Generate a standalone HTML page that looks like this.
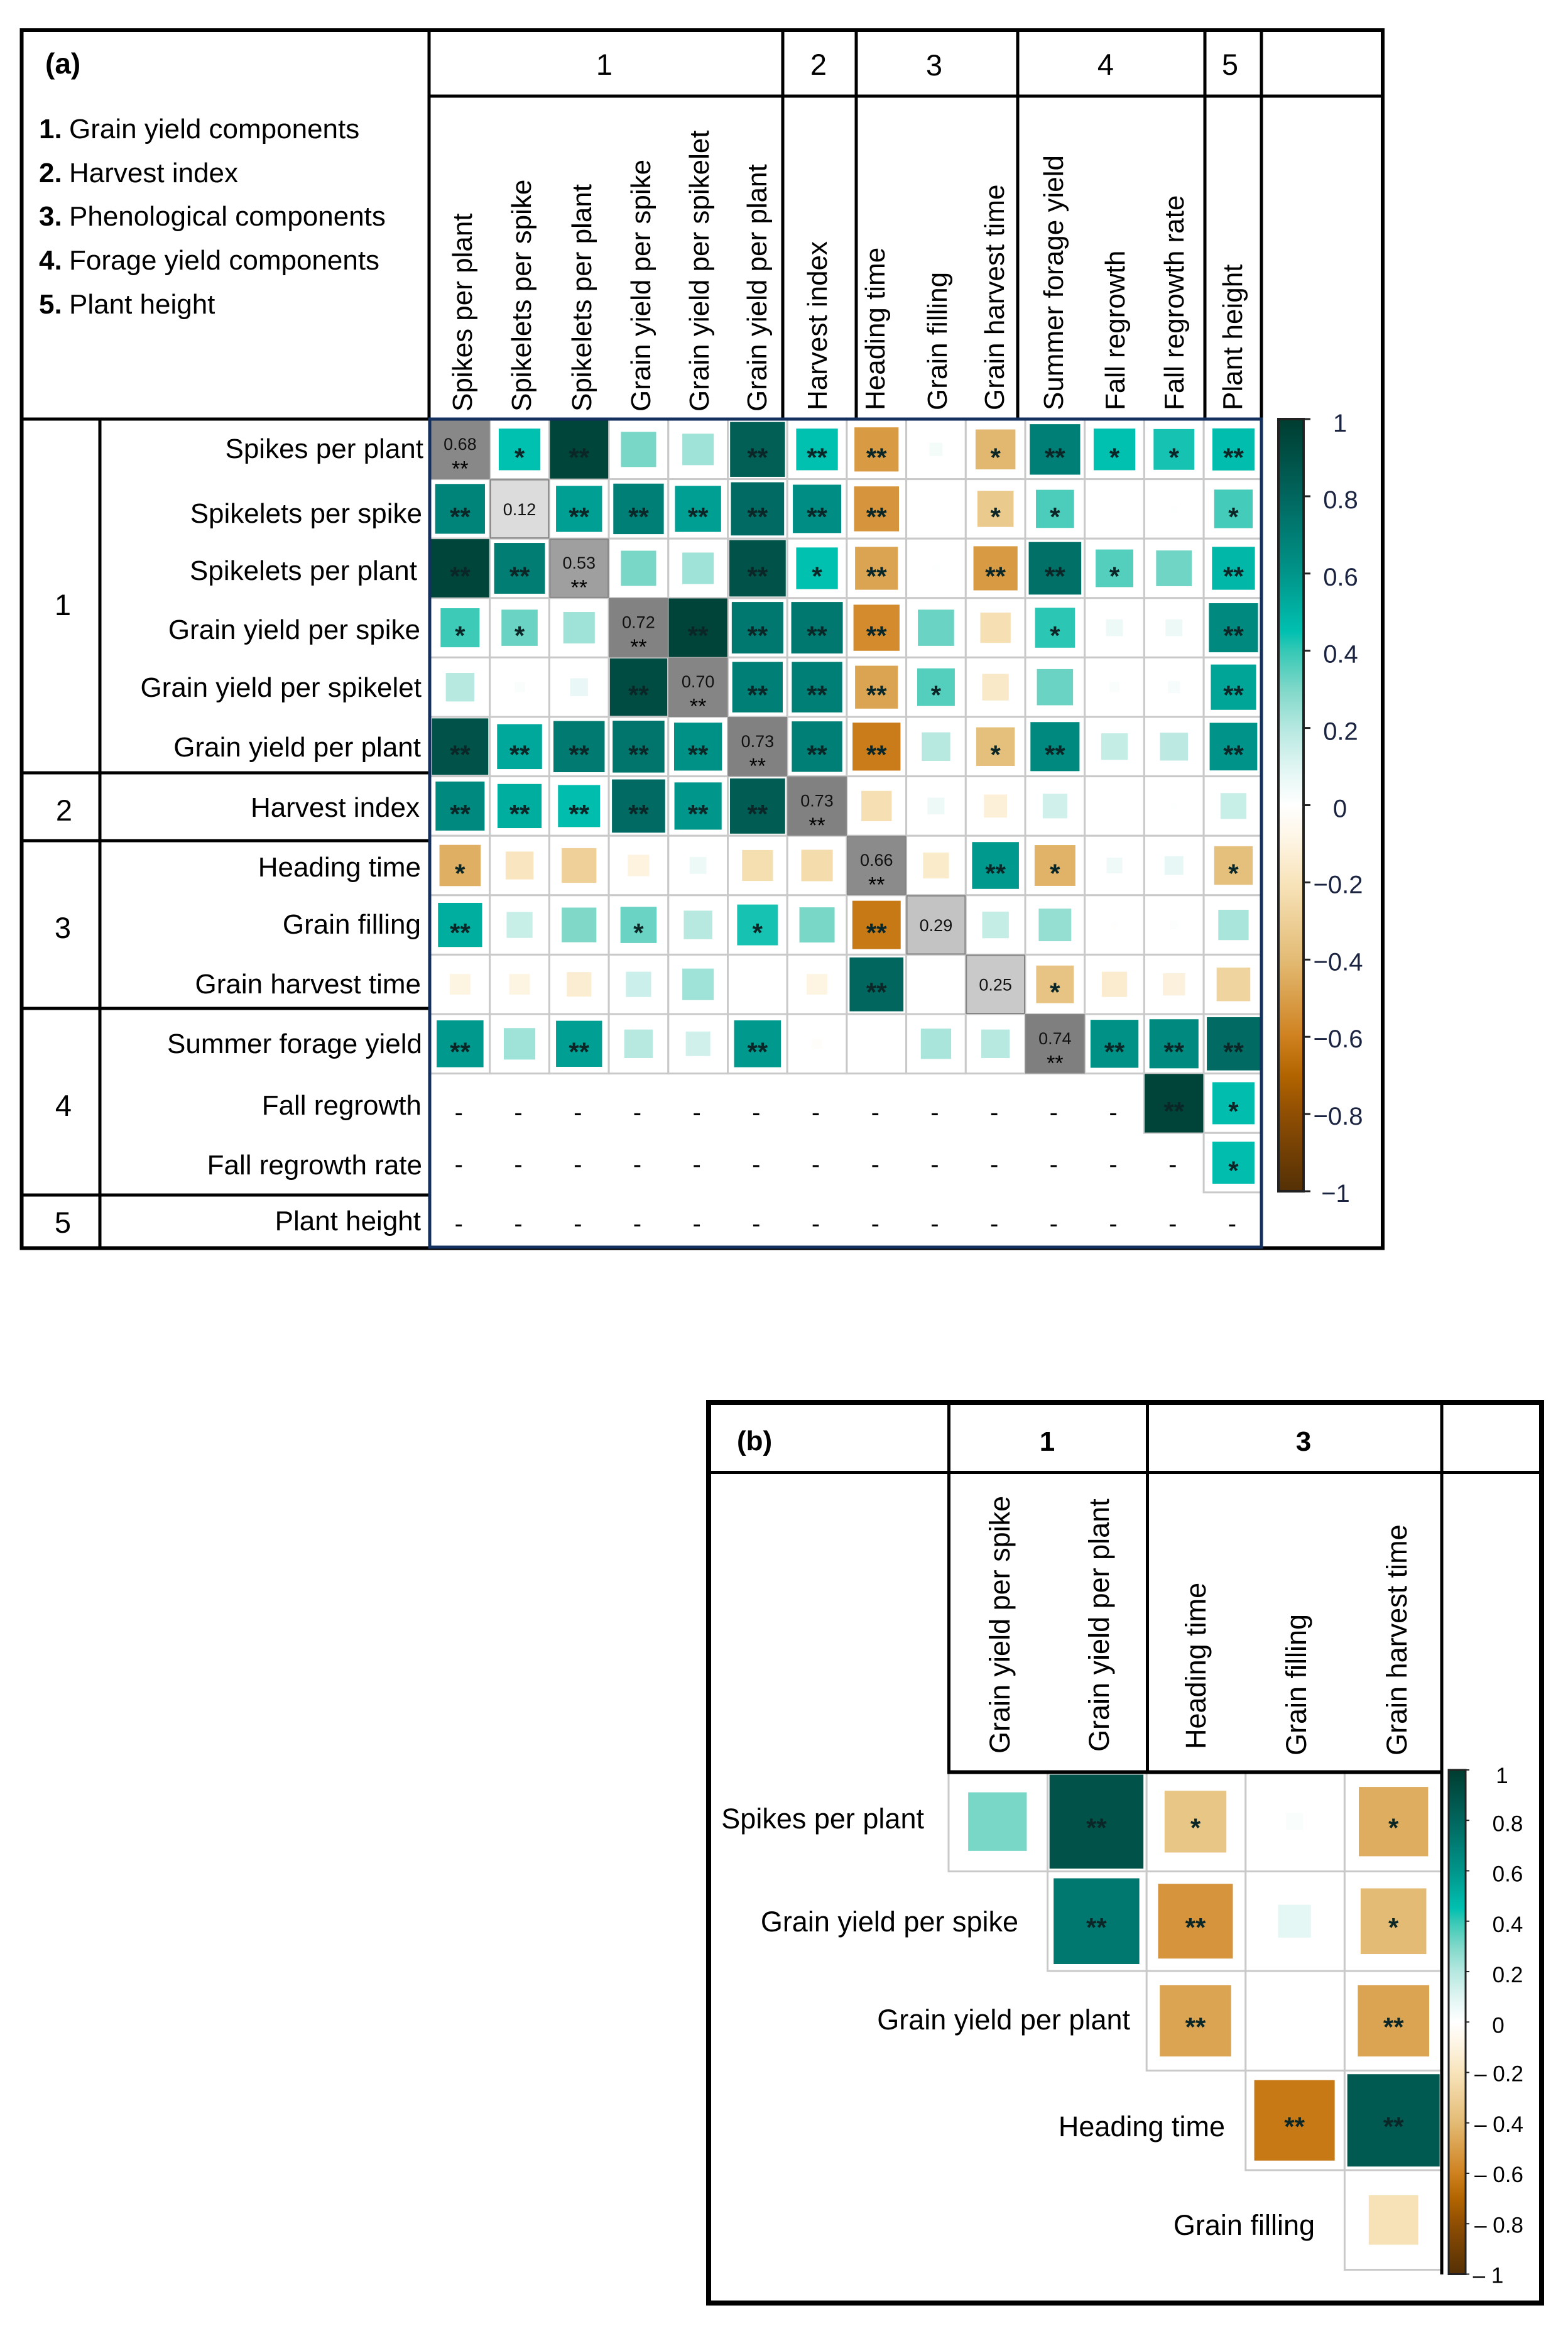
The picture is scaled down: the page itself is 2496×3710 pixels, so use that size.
<!DOCTYPE html>
<html lang="en">
<head>
<meta charset="utf-8">
<title>Correlation matrices</title>
<style>
html,body{margin:0;padding:0;background:#fff;}
svg{display:block;font-family:"Liberation Sans",sans-serif;}
.lb{font-size:44px;fill:#000;}
.rl{font-size:44px;fill:#000;text-anchor:end;}
.rlb{font-size:45px;fill:#000;text-anchor:end;}
.cl{font-size:44px;fill:#000;}
.clb{font-size:45px;fill:#000;}
.gn{font-size:47px;fill:#000;text-anchor:middle;}
.l{stroke:#000;fill:none;stroke-width:5;}
.n{stroke:#14305f;fill:none;stroke-width:5;}
</style>
</head>
<body>
<svg id="chart" xmlns="http://www.w3.org/2000/svg" width="2496" height="3710" viewBox="0 0 2496 3710">
<rect x="0" y="0" width="2496" height="3710" fill="#fff"/>
<defs>
<linearGradient id="cbGradA" x1="0" y1="0" x2="0" y2="1"></linearGradient>
<clipPath id="clipA"><rect x="680" y="660" width="1328" height="1330"/></clipPath>
<clipPath id="clipB"><rect x="1500" y="2810" width="795" height="820"/></clipPath>
</defs>
<g id="cellsA" clip-path="url(#clipA)"></g>
<g id="cellsB" clip-path="url(#clipB)"></g>
<g id="cbarA"></g>
<g id="cbarB"></g>

<g>
<rect class="l" x="34.5" y="48" width="2166.5" height="1938.5" style="stroke-width:6"/>
<line class="l" x1="682" y1="153" x2="2201" y2="153"/>
<line class="l" x1="34" y1="667" x2="684" y2="667"/>
<line class="l" x1="683" y1="48" x2="683" y2="667"/>
<line class="l" x1="1246" y1="48" x2="1246" y2="667"/>
<line class="l" x1="1363" y1="48" x2="1363" y2="667"/>
<line class="l" x1="1620" y1="48" x2="1620" y2="667"/>
<line class="l" x1="1918" y1="48" x2="1918" y2="667"/>
<line class="l" x1="2008" y1="48" x2="2008" y2="667"/>
<line class="l" x1="159" y1="667" x2="159" y2="1986"/>
<line class="l" x1="34" y1="1230" x2="684" y2="1230"/>
<line class="l" x1="34" y1="1338" x2="684" y2="1338"/>
<line class="l" x1="34" y1="1605" x2="684" y2="1605"/>
<line class="l" x1="34" y1="1902" x2="684" y2="1902"/>
<rect class="n" x="684" y="667" width="1324" height="1318"/>
</g>

<g>
<text x="72" y="117" font-size="46" font-weight="bold">(a)</text>
<text x="62" y="220" font-size="44" font-weight="bold">1.</text>
<text class="lb" x="110" y="220">Grain yield components</text>
<text x="62" y="290" font-size="44" font-weight="bold">2.</text>
<text class="lb" x="110" y="290">Harvest index</text>
<text x="62" y="359" font-size="44" font-weight="bold">3.</text>
<text class="lb" x="110" y="359">Phenological components</text>
<text x="62" y="429" font-size="44" font-weight="bold">4.</text>
<text class="lb" x="110" y="429">Forage yield components</text>
<text x="62" y="499" font-size="44" font-weight="bold">5.</text>
<text class="lb" x="110" y="499">Plant height</text>
</g>

<g>
<text class="gn" x="962" y="119">1</text>
<text class="gn" x="1303" y="119">2</text>
<text class="gn" x="1487" y="120">3</text>
<text class="gn" x="1760" y="119">4</text>
<text class="gn" x="1958" y="119">5</text>
</g>
<g>
<text class="gn" x="100" y="979">1</text>
<text class="gn" x="102" y="1306">2</text>
<text class="gn" x="100" y="1493">3</text>
<text class="gn" x="101" y="1776">4</text>
<text class="gn" x="100" y="1962">5</text>
</g>
<g>
<text class="rl" x="674" y="729">Spikes per plant</text>
<text class="rl" x="672" y="832">Spikelets per spike</text>
<text class="rl" x="664" y="923">Spikelets per plant</text>
<text class="rl" x="669" y="1017">Grain yield per spike</text>
<text class="rl" x="671" y="1109">Grain yield per spikelet</text>
<text class="rl" x="670" y="1204">Grain yield per plant</text>
<text class="rl" x="668" y="1300">Harvest index</text>
<text class="rl" x="670" y="1395">Heading time</text>
<text class="rl" x="670" y="1486">Grain filling</text>
<text class="rl" x="670" y="1581">Grain harvest time</text>
<text class="rl" x="672" y="1676">Summer forage yield</text>
<text class="rl" x="671" y="1774">Fall regrowth</text>
<text class="rl" x="672" y="1869">Fall regrowth rate</text>
<text class="rl" x="670" y="1958">Plant height</text>
</g>
<g>
<text class="cl" transform="translate(751,655) rotate(-90)">Spikes per plant</text>
<text class="cl" transform="translate(845,655) rotate(-90)">Spikelets per spike</text>
<text class="cl" transform="translate(941,655) rotate(-90)">Spikelets per plant</text>
<text class="cl" transform="translate(1035,655) rotate(-90)">Grain yield per spike</text>
<text class="cl" transform="translate(1128,655) rotate(-90)">Grain yield per spikelet</text>
<text class="cl" transform="translate(1220,655) rotate(-90)">Grain yield per plant</text>
<text class="cl" transform="translate(1316,653) rotate(-90)">Harvest index</text>
<text class="cl" transform="translate(1408,653) rotate(-90)">Heading time</text>
<text class="cl" transform="translate(1507,653) rotate(-90)">Grain filling</text>
<text class="cl" transform="translate(1598,653) rotate(-90)">Grain harvest time</text>
<text class="cl" transform="translate(1692,653) rotate(-90)">Summer forage yield</text>
<text class="cl" transform="translate(1790,653) rotate(-90)">Fall regrowth</text>
<text class="cl" transform="translate(1884,653) rotate(-90)">Fall regrowth rate</text>
<text class="cl" transform="translate(1977,653) rotate(-90)">Plant height</text>
</g>

<g>
<rect class="l" x="1128" y="2232" width="1326" height="1433.5" style="stroke-width:8"/>
<line class="l" x1="1128" y1="2343.5" x2="2454" y2="2343.5"/>
<line class="l" x1="1510.5" y1="2232" x2="1510.5" y2="2820"/>
<line class="l" x1="1826.5" y1="2232" x2="1826.5" y2="2820"/>
<line class="l" x1="2295" y1="2232" x2="2295" y2="3620"/>
<line class="l" x1="1508" y1="2820.5" x2="2295" y2="2820.5" style="stroke-width:6"/>
</g>
<g>
<text x="1173" y="2308" font-size="44" font-weight="bold">(b)</text>
<text x="1667" y="2309" font-size="44" font-weight="bold" text-anchor="middle">1</text>
<text x="2075" y="2309" font-size="44" font-weight="bold" text-anchor="middle">3</text>
</g>
<g>
<text class="rlb" x="1471" y="2910">Spikes per plant</text>
<text class="rlb" x="1621" y="3074">Grain yield per spike</text>
<text class="rlb" x="1799" y="3230">Grain yield per plant</text>
<text class="rlb" x="1950" y="3400">Heading time</text>
<text class="rlb" x="2093" y="3557">Grain filling</text>
</g>
<g>
<text class="clb" transform="translate(1607,2791) rotate(-90)">Grain yield per spike</text>
<text class="clb" transform="translate(1765,2788) rotate(-90)">Grain yield per plant</text>
<text class="clb" transform="translate(1919,2784) rotate(-90)">Heading time</text>
<text class="clb" transform="translate(2079,2794) rotate(-90)">Grain filling</text>
<text class="clb" transform="translate(2239,2794) rotate(-90)">Grain harvest time</text>
</g>
</svg>
<script>
const colorStopValues = [1, 0.8, 0.6, 0.45, 0.4, 0.3, 0.2, 0.1, 0, -0.1, -0.2, -0.4, -0.6, -0.7, -0.8, -1];
const colorStopHexes = ["#003c30","#01665e","#00958a","#00c0b0","#35c8b5","#7fd8c9","#b5e8e0","#dff5f2","#ffffff","#fdf3e0","#f8e4bb","#e3bb74","#cf811f","#b26400","#8f4e03","#543005"];
const tickValues = [1, 0.8, 0.6, 0.4, 0.2, 0, -0.2, -0.4, -0.6, -0.8, -1];

const corrA = [
 [0.68,0.49,0.96,0.35,0.28,0.85,0.49,-0.55,0.05,-0.45,0.72,0.49,0.47,0.5],
 [0.70,0.12,0.60,0.72,0.60,0.80,0.66,-0.57,0.00,-0.37,0.41,0.00,0.01,0.42],
 [0.96,0.73,0.53,0.35,0.28,0.90,0.49,-0.52,0.01,-0.55,0.78,0.40,0.36,0.52],
 [0.43,0.37,0.28,0.72,0.97,0.75,0.75,-0.60,0.37,-0.26,0.45,0.08,0.08,0.68],
 [0.23,0.03,0.09,0.93,0.70,0.72,0.72,-0.52,0.40,-0.20,0.37,0.03,0.04,0.58],
 [0.90,0.57,0.74,0.76,0.65,0.73,0.72,-0.65,0.23,-0.42,0.68,0.20,0.22,0.64],
 [0.68,0.55,0.50,0.80,0.63,0.86,0.73,-0.26,0.08,-0.15,0.17,0.00,0.01,0.19],
 [-0.48,-0.22,-0.34,-0.13,0.08,-0.27,-0.28,0.66,-0.19,0.62,-0.47,0.07,0.10,-0.42],
 [0.55,0.19,0.34,0.37,0.23,0.47,0.35,-0.66,0.29,0.20,0.30,-0.01,0.02,0.26],
 [-0.12,-0.12,-0.17,0.18,0.28,0.00,-0.12,0.82,0.00,0.25,-0.40,-0.18,-0.14,-0.32],
 [0.62,0.28,0.60,0.23,0.17,0.62,-0.03,0.00,0.26,0.23,0.74,0.65,0.68,0.80],
 [null,null,null,null,null,null,null,null,null,null,null,null,0.97,0.50],
 [null,null,null,null,null,null,null,null,null,null,null,null,null,0.50],
 [null,null,null,null,null,null,null,null,null,null,null,null,null,null]
];
const sigA = [
 [2,1,2,0,0,2,2,2,0,1,2,1,1,2],
 [2,0,2,2,2,2,2,2,0,1,1,0,0,1],
 [2,2,2,0,0,2,1,2,0,2,2,1,0,2],
 [1,1,0,2,2,2,2,2,0,0,1,0,0,2],
 [0,0,0,2,2,2,2,2,1,0,0,0,0,2],
 [2,2,2,2,2,2,2,2,0,1,2,0,0,2],
 [2,2,2,2,2,2,2,0,0,0,0,0,0,0],
 [1,0,0,0,0,0,0,2,0,2,1,0,0,1],
 [2,0,0,1,0,1,0,2,0,0,0,0,0,0],
 [0,0,0,0,0,0,0,2,0,0,1,0,0,0],
 [2,0,2,0,0,2,0,0,0,0,2,2,2,2],
 [0,0,0,0,0,0,0,0,0,0,0,0,2,1],
 [0,0,0,0,0,0,0,0,0,0,0,0,0,1],
 [0,0,0,0,0,0,0,0,0,0,0,0,0,0]
];
const corrB = [
 [0.35,0.90,-0.39,0.03,-0.49],
 [null,0.75,-0.57,0.11,-0.44],
 [null,null,-0.52,0.00,-0.52],
 [null,null,null,-0.66,0.87],
 [null,null,null,null,-0.25]
];
const sigB = [
 [0,2,1,0,1],
 [0,2,2,0,1],
 [0,0,2,0,2],
 [0,0,0,2,2],
 [0,0,0,0,0]
];

const NS = "http://www.w3.org/2000/svg";
function hexToRgb(h){return [parseInt(h.slice(1,3),16),parseInt(h.slice(3,5),16),parseInt(h.slice(5,7),16)];}
function colorOf(v){
  for(let i=0;i<colorStopValues.length-1;i++){
    const a=colorStopValues[i],b=colorStopValues[i+1];
    if(v<=a&&v>=b){
      const t=(a-v)/(a-b),c1=hexToRgb(colorStopHexes[i]),c2=hexToRgb(colorStopHexes[i+1]);
      return "rgb("+c1.map((c,k)=>Math.round(c+(c2[k]-c)*t)).join(",")+")";
    }
  }
  return "#fff";
}
function cellColor(v){
  return colorOf(Math.sign(v)*Math.pow(Math.abs(v),1.12));
}
function svgEl(tag,attrs,parent){
  const el=document.createElementNS(NS,tag);
  for(const k in attrs){el.setAttribute(k,attrs[k]);}
  parent.appendChild(el);
  return el;
}
function drawStars(parent,cx,cy,count,size){
  const t=svgEl("text",{x:cx,y:cy,"font-size":size,"font-weight":"bold","text-anchor":"middle",fill:"#0b2626"},parent);
  
  
  t.textContent=count===2?"**":"*";
}

/* panel a axes */
const ax0=685,adx=94.7,ay0=668,ady=94.6;
function xA(c){return ax0+adx*c;}
function yA(r){return ay0+ady*r;}
const gA=document.getElementById("cellsA");
corrA.forEach((row,r)=>{
  row.forEach((v,c)=>{
    if(v===null){
      const d=svgEl("text",{x:xA(c)+adx/2-2,y:yA(r)+ady/2+(r===11?28:16),"font-size":40,"text-anchor":"middle",fill:"#000"},gA);
      
      
      d.textContent="-";
      return;
    }
    const frame=svgEl("rect",{x:xA(c),y:yA(r),width:adx,height:ady,fill:"#fff",stroke:"#c9c9c9","stroke-width":3},gA);
    
    
  });
});
corrA.forEach((row,r)=>{
  row.forEach((v,c)=>{
    if(v===null)return;
    const cx=xA(c)+adx/2,cy=yA(r)+ady/2;
    if(r===c){
      const g=Math.round(238-150*v);
      const box=svgEl("rect",{x:xA(c)+1,y:yA(r)+1,width:adx-2,height:ady-2,fill:"rgb("+g+","+g+","+g+")",stroke:"#858585","stroke-width":2},gA);
      
      
      const s=sigA[r][c];
      const t=svgEl("text",{x:cx,y:s?cy+0.5:cy+10,"font-size":27,"text-anchor":"middle",fill:"#111"},gA);
      
      
      t.textContent=v.toFixed(2);
      if(s){
        const st=svgEl("text",{x:cx,y:cy+42,"font-size":34,"text-anchor":"middle",fill:"#000"},gA);
        
        
        st.textContent="**";
      }
      return;
    }
    if(Math.abs(v)<0.005)return;
    const side=adx*Math.sqrt(Math.abs(v));
    const sq=svgEl("rect",{x:cx-side/2,y:cy-side/2,width:side,height:side,fill:cellColor(v)},gA);
    
    
    if(sigA[r][c])drawStars(gA,cx,cy+27,sigA[r][c],42);
  });
});

/* panel b axes */
const bx0=1510,bdx=157.6,by0=2820,bdy=158.5;
function xB(c){return bx0+bdx*c;}
function yB(r){return by0+bdy*r;}
const gB=document.getElementById("cellsB");
corrB.forEach((row,r)=>{
  row.forEach((v,c)=>{
    if(v===null)return;
    const frame=svgEl("rect",{x:xB(c),y:yB(r),width:bdx,height:bdy,fill:"#fff",stroke:"#c9c9c9","stroke-width":3},gB);
    
    
  });
});
corrB.forEach((row,r)=>{
  row.forEach((v,c)=>{
    if(v===null||Math.abs(v)<0.005)return;
    const cx=xB(c)+bdx/2-1,cy=yB(r)+bdy/2;
    const side=bdx*Math.sqrt(Math.abs(v));
    const sq=svgEl("rect",{x:cx-side/2,y:cy-side/2,width:side,height:side,fill:cellColor(v)},gB);
    
    
    if(sigB[r][c])drawStars(gB,cx,cy+24,sigB[r][c],42);
  });
});

/* gradient */
const grad=document.getElementById("cbGradA");
colorStopValues.forEach((v,i)=>{
  svgEl("stop",{offset:((1-v)/2*100)+"%","stop-color":colorStopHexes[i]},grad);
});

function drawColorbar(host,x0,x1,yTop,yBot,tickLen,fontSize,labelFill,strokeW,labelFn){
  const yOf=v=>yTop+(1-v)/2*(yBot-yTop);
  const bar=svgEl("rect",{x:x0,y:yTop,width:x1-x0,height:yBot-yTop,fill:"url(#cbGradA)",stroke:"#222","stroke-width":strokeW},host);
  
  
  tickValues.forEach(v=>{
    const tk=svgEl("line",{x1:x1,x2:x1+tickLen,y1:yOf(v),y2:yOf(v),stroke:"#222","stroke-width":strokeW-1},host);
    
    
    const lab=labelFn(v);
    const t=svgEl("text",{x:lab.x,y:yOf(v)+lab.dy,"font-size":fontSize,"text-anchor":"middle",fill:labelFill},host);
    
    
    t.textContent=lab.text;
  });
}
drawColorbar(document.getElementById("cbarA"),2035,2075,667,1896,11,40,"#1a2340",4,v=>{
  const a=Math.abs(v),s=a===0||a===1?String(a):a.toFixed(1);
  if(v<0)return {x:a===1?2126:2130,dy:17,text:"\u2212"+s};
  return {x:a===0||a===1?2133:2134,dy:v===1?20:19,text:s};
});
drawColorbar(document.getElementById("cbarB"),2306,2333,2817,3619.5,6,35,"#000",3,v=>{
  const a=Math.abs(v),s=a===0||a===1?String(a):a.toFixed(1);
  if(v<0)return {x:a===1?2369:2386,dy:14,text:"\u2013 "+s};
  return {x:a===0?2385:(a===1?2391:2400),dy:v===1?21:17,text:s};
});
</script>
</body>
</html>
